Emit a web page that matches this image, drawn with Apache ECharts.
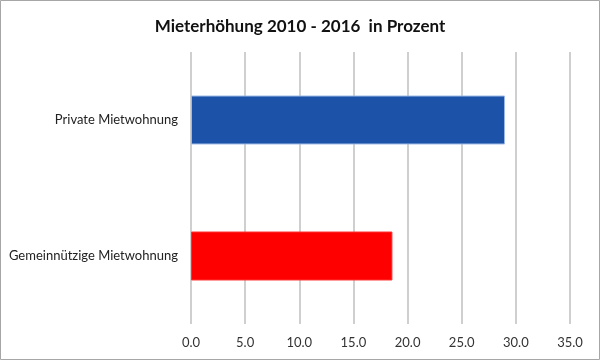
<!DOCTYPE html>
<html>
<head>
<meta charset="utf-8">
<script src="https://cdn.jsdelivr.net/npm/echarts@6/dist/echarts.min.js"></script>
<style>html,body{margin:0;padding:0;background:#fff}#c{width:600px;height:360px}</style>
</head>
<body>
<div id="c"></div>
<script>
const categories = ["Private Mietwohnung", "Gemeinnützige Mietwohnung"];
const values = [29.0, 18.6];
const barColors = ["#1c53a8", "#ff0000"];
const titleText = "Mieterhöhung 2010 - 2016  in Prozent";

const chart = echarts.init(document.getElementById('c'));
chart.setOption({
  animation: false,
  backgroundColor: '#fff',
  title: {
    text: titleText, left: 'center', top: 13,
    textStyle: { fontFamily: 'Lato', fontWeight: 'bold', fontSize: 17, color: '#111' }
  },
  graphic: [{
    type: 'rect', silent: true,
    shape: { x: 0.5, y: 0.5, width: 599, height: 359 },
    style: { fill: 'none', stroke: '#a6a6a6', lineWidth: 1 }
  }],
  grid: { left: 191, right: 30, top: 52, bottom: 36 },
  xAxis: {
    type: 'value', min: 0, max: 35, interval: 5,
    axisLine: { show: false }, axisTick: { show: false },
    splitLine: { show: true, lineStyle: { color: '#bfbfbf', width: 1.5 } },
    axisLabel: { margin: 12, fontFamily: 'Lato', fontSize: 13, color: '#333',
      formatter: v => v.toFixed(1) }
  },
  yAxis: {
    type: 'category', data: categories, inverse: true,
    axisLine: { show: false }, axisTick: { show: false },
    axisLabel: { margin: 13, fontFamily: 'Lato', fontSize: 13, color: '#222' }
  },
  series: [{
    type: 'bar', barWidth: '36%',
    data: values.map((v, i) => ({
      value: v,
      itemStyle: { color: barColors[i], borderColor: i === 0 ? '#9bb8e6' : '#ff3030', borderWidth: 1 }
    }))
  }]
});
</script>
</body>
</html>
